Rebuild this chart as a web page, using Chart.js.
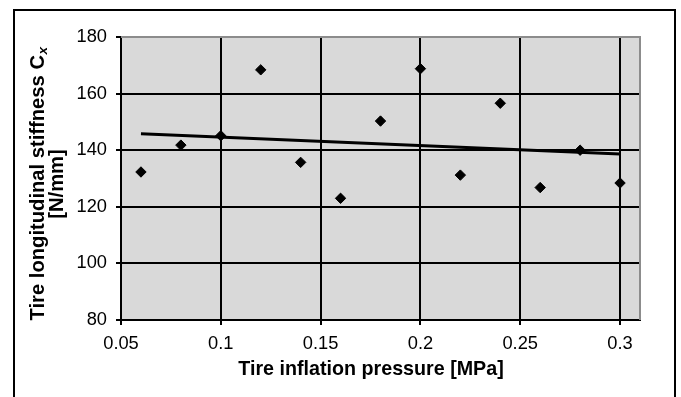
<!DOCTYPE html>
<html>
<head>
<meta charset="utf-8">
<script src="https://cdn.jsdelivr.net/npm/chart.js@4/dist/chart.umd.min.js"></script>
<style>
html,body{margin:0;padding:0;background:#fff;}
canvas{display:block;}
</style>
</head>
<body>
<canvas id="c" width="681" height="397"></canvas>
<script>
// ---- data ----
const pressure = [0.06, 0.08, 0.10, 0.12, 0.14, 0.16, 0.18, 0.20, 0.22, 0.24, 0.26, 0.28, 0.30];
const stiffness = [132.3, 141.8, 145.1, 168.4, 135.7, 123.0, 150.3, 168.8, 131.2, 156.6, 126.8, 140.0, 128.4];
const trendX = [0.06, 0.30];
const trendY = [145.8, 138.7];
const xTicks = [0.05, 0.1, 0.15, 0.2, 0.25, 0.3];
const yTicks = [80, 100, 120, 140, 160, 180];
const xTitle = 'Tire inflation pressure [MPa]';
const yTitleMain = 'Tire longitudinal stiffness C';
const yTitleSub = 'x';
const yTitleUnit = '[N/mm]';

const FONT = "'Liberation Sans', Arial, sans-serif";

const deco = {
  id: 'deco',
  beforeDraw(chart) {
    const ctx = chart.ctx, a = chart.chartArea;
    ctx.save();
    ctx.fillStyle = '#fff';
    ctx.fillRect(0, 0, chart.width, chart.height);
    ctx.strokeStyle = '#000';
    ctx.lineWidth = 2;
    ctx.strokeRect(14, 10, 661, 420);
    ctx.fillStyle = '#d9d9d9';
    ctx.fillRect(a.left, a.top, a.right - a.left, a.bottom - a.top);
    ctx.restore();
  },
  beforeDatasetsDraw(chart) {
    const ctx = chart.ctx, a = chart.chartArea;
    ctx.save();
    ctx.strokeStyle = '#8c8c8c';
    ctx.lineWidth = 2;
    ctx.beginPath();
    ctx.moveTo(a.left, a.top);
    ctx.lineTo(a.right, a.top);
    ctx.lineTo(a.right, a.bottom);
    ctx.stroke();
    ctx.restore();
  },
  afterDraw(chart) {
    const ctx = chart.ctx;
    ctx.save();
    ctx.fillStyle = '#000';
    // x title
    ctx.font = "bold 19.7px " + FONT;
    ctx.textAlign = 'center';
    ctx.textBaseline = 'alphabetic';
    ctx.fillText(xTitle, 371, 375);
    // y title (rotated)
    ctx.save();
    ctx.translate(43.5, 184);
    ctx.rotate(-Math.PI / 2);
    ctx.font = "bold 20.2px " + FONT;
    const wMain = ctx.measureText(yTitleMain).width;
    ctx.font = "italic bold 13.5px " + FONT;
    const wSub = ctx.measureText(yTitleSub).width;
    const total = wMain + wSub;
    ctx.textAlign = 'left';
    ctx.font = "bold 20.2px " + FONT;
    ctx.fillText(yTitleMain, -total / 2, 0);
    ctx.font = "italic bold 13.5px " + FONT;
    ctx.fillText(yTitleSub, -total / 2 + wMain + 0.5, 3);
    ctx.restore();
    ctx.save();
    ctx.translate(63, 184);
    ctx.rotate(-Math.PI / 2);
    ctx.font = "bold 20.2px " + FONT;
    ctx.textAlign = 'center';
    ctx.fillText(yTitleUnit, 0, 0);
    ctx.restore();
    ctx.restore();
  }
};

new Chart(document.getElementById('c'), {
  type: 'scatter',
  data: {
    datasets: [
      {
        type: 'line',
        data: trendX.map((x, i) => ({x: x, y: trendY[i]})),
        borderColor: '#000',
        borderWidth: 3,
        pointRadius: 0,
        fill: false,
        tension: 0
      },
      {
        data: pressure.map((x, i) => ({x: x, y: stiffness[i]})),
        pointStyle: 'rectRot',
        pointRadius: 5.2,
        pointBackgroundColor: '#000',
        pointBorderColor: '#000',
        pointBorderWidth: 1
      }
    ]
  },
  options: {
    responsive: false,
    animation: false,
    devicePixelRatio: 1,
    layout: { padding: { left: 0, top: 37, right: 41, bottom: 0 } },
    plugins: { legend: { display: false }, tooltip: { enabled: false } },
    scales: {
      x: {
        type: 'linear',
        min: 0.05,
        max: 0.31,
        afterBuildTicks: s => { s.ticks = xTicks.map(v => ({value: v})); },
        afterFit: s => { s.height = 77; },
        border: { display: true, color: '#000', width: 2 },
        grid: {
          color: c => (c.tick && c.tick.value === xTicks[0]) ? 'rgba(0,0,0,0)' : '#000',
          lineWidth: 2,
          drawTicks: true,
          tickLength: 5,
          tickColor: '#000',
          tickWidth: 2
        },
        ticks: {
          color: '#000',
          font: { family: FONT, size: 18.3 },
          padding: 8,
          maxRotation: 0,
          autoSkip: false,
          callback: v => String(v)
        }
      },
      y: {
        type: 'linear',
        min: 80,
        max: 180,
        afterBuildTicks: s => { s.ticks = yTicks.map(v => ({value: v})); },
        afterFit: s => { s.width = 121; },
        border: { display: true, color: '#000', width: 2 },
        grid: {
          color: c => (c.tick && (c.tick.value === yTicks[yTicks.length - 1] || c.tick.value === yTicks[0])) ? 'rgba(0,0,0,0)' : '#000',
          lineWidth: 2,
          drawTicks: true,
          tickLength: 5,
          tickColor: '#000',
          tickWidth: 2
        },
        ticks: {
          color: '#000',
          font: { family: FONT, size: 18.3 },
          padding: 9,
          autoSkip: false,
          callback: v => String(v)
        }
      }
    }
  },
  plugins: [deco]
});
</script>
</body>
</html>
